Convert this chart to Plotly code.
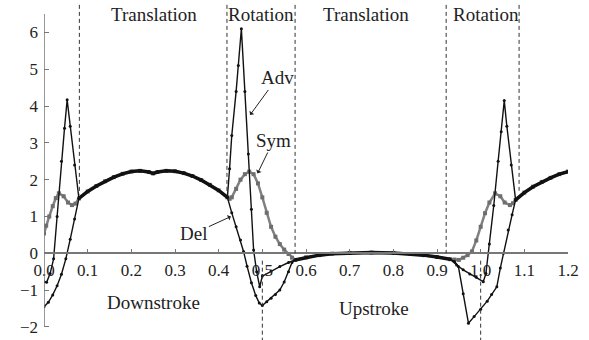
import plotly.graph_objects as go

# ---------------- data ----------------
# shared translation phases (all three cases coincide)
trans1_t = [0.08, 0.10, 0.12, 0.14, 0.16, 0.18, 0.20, 0.22, 0.24, 0.25, 0.26, 0.28, 0.30, 0.32, 0.34, 0.36, 0.38, 0.40, 0.42]
trans1_f = [1.49, 1.68, 1.83, 1.96, 2.07, 2.16, 2.22, 2.24, 2.21, 2.17, 2.21, 2.24, 2.23, 2.18, 2.10, 1.99, 1.86, 1.71, 1.52]
trans2_t = [0.575, 0.60, 0.63, 0.66, 0.70, 0.75, 0.80, 0.84, 0.87, 0.90, 0.93]
trans2_f = [-0.18, -0.11, -0.05, -0.01, 0.01, 0.02, 0.01, -0.02, -0.05, -0.10, -0.16]
trans3_t = [1.08, 1.10, 1.12, 1.14, 1.16, 1.18, 1.20]
trans3_f = [1.45, 1.65, 1.81, 1.94, 2.05, 2.15, 2.22]

# Adv (advanced rotation)
adv_rot0_t = [0.0, 0.006, 0.014, 0.022, 0.03, 0.04, 0.047, 0.053, 0.06, 0.07]
adv_rot0_f = [-0.77, -0.79, -0.55, -0.15, 1.0, 2.5, 3.4, 4.17, 3.45, 2.4]
adv_rot1_t = [0.425, 0.43, 0.44, 0.445, 0.452, 0.46, 0.468, 0.475, 0.48, 0.487, 0.494, 0.50, 0.52, 0.54, 0.56]
adv_rot1_f = [2.3, 3.2, 4.4, 5.1, 6.1, 4.4, 2.7, 1.2, 0.09, -0.5, -0.91, -0.62, -0.48, -0.36, -0.25]
adv_rot2_t = [0.945, 0.96, 0.975, 0.99, 1.006, 1.012, 1.02, 1.03, 1.04, 1.047, 1.054, 1.06, 1.07]
adv_rot2_f = [-0.32, -0.45, -0.56, -0.65, -0.77, -0.55, 0.25, 1.3, 2.5, 3.3, 4.15, 3.45, 2.4]

# Del (delayed rotation)
del_rot0_t = [0.0, 0.01, 0.02, 0.03, 0.04, 0.05, 0.06, 0.07]
del_rot0_f = [-1.45, -1.33, -1.13, -0.88, -0.57, -0.15, 0.38, 0.93]
del_rot1_t = [0.43, 0.44, 0.45, 0.457, 0.465, 0.475, 0.485, 0.493, 0.50, 0.51, 0.52, 0.53, 0.54, 0.55, 0.56, 0.568]
del_rot1_f = [1.1, 0.72, 0.36, 0.05, -0.35, -0.8, -1.15, -1.35, -1.42, -1.32, -1.22, -1.12, -1.0, -0.78, -0.5, -0.25]
del_rot2_t = [0.94, 0.949, 0.96, 0.972, 0.985, 1.0, 1.015, 1.025, 1.037, 1.045, 1.052, 1.063, 1.072]
del_rot2_f = [-0.22, -0.36, -1.1, -1.9, -1.72, -1.52, -1.3, -1.12, -0.91, -0.4, 0.0, 0.63, 1.05]

# Sym (symmetrical rotation)
sym_rot0_t = [0.0, 0.005, 0.012, 0.02, 0.027, 0.034, 0.045, 0.055, 0.064, 0.072]
sym_rot0_f = [0.54, 0.75, 1.0, 1.28, 1.5, 1.63, 1.55, 1.38, 1.31, 1.35]
sym_rot1_t = [0.425, 0.43, 0.44, 0.45, 0.46, 0.47, 0.48, 0.49, 0.50, 0.51, 0.52, 0.53, 0.54, 0.55, 0.56, 0.568]
sym_rot1_f = [1.48, 1.52, 1.75, 2.0, 2.15, 2.22, 2.15, 1.9, 1.52, 1.1, 0.72, 0.45, 0.25, 0.1, -0.02, -0.12]
sym_rot2_t = [0.94, 0.95, 0.96, 0.97, 0.98, 0.99, 1.0, 1.01, 1.02, 1.033, 1.045, 1.055, 1.067, 1.074]
sym_rot2_f = [-0.17, -0.18, -0.12, -0.05, 0.05, 0.35, 0.72, 1.09, 1.38, 1.63, 1.55, 1.38, 1.31, 1.36]

x_ticks = [0.0, 0.1, 0.2, 0.3, 0.4, 0.5, 0.6, 0.7, 0.8, 0.9, 1.0, 1.1, 1.2]
y_ticks = [-2, -1, 0, 1, 2, 3, 4, 5, 6]

phase_bounds = [0.081, 0.419, 0.575, 0.921, 1.088]
phase_bound_ends = [1.6, 1.6, 0.0, 0.0, 1.7]
reversals = [0.5, 1.0]
phase_labels = ["Translation", "Rotation", "Translation", "Rotation"]
phase_label_x = [0.252, 0.497, 0.738, 1.013]
stroke_labels = ["Downstroke", "Upstroke"]
stroke_label_x = [0.251, 0.755]
stroke_label_y = [-1.34, -1.5]


def full(r0t, r0f, r1t, r1f, r2t, r2f):
    t = r0t + trans1_t + r1t + trans2_t + r2t + trans3_t
    f = r0f + trans1_f + r1f + trans2_f + r2f + trans3_f
    return t, f


adv_t, adv_f = full(adv_rot0_t, adv_rot0_f, adv_rot1_t, adv_rot1_f, adv_rot2_t, adv_rot2_f)
del_t, del_f = full(del_rot0_t, del_rot0_f, del_rot1_t, del_rot1_f, del_rot2_t, del_rot2_f)
sym_t, sym_f = full(sym_rot0_t, sym_rot0_f, sym_rot1_t, sym_rot1_f, sym_rot2_t, sym_rot2_f)

FONT = "Liberation Serif"
YMIN, YMAX = -2.356, 6.883

fig = go.Figure()
fig.add_trace(go.Scatter(x=sym_t, y=sym_f, mode="lines+markers", name="Sym",
                         line=dict(color="#808080", width=2.5),
                         marker=dict(color="#6e6e6e", size=4, symbol="square")))
fig.add_trace(go.Scatter(x=del_t, y=del_f, mode="lines+markers", name="Del",
                         line=dict(color="#111111", width=1.4),
                         marker=dict(color="#111111", size=3)))
fig.add_trace(go.Scatter(x=adv_t, y=adv_f, mode="lines+markers", name="Adv",
                         line=dict(color="#111111", width=1.4),
                         marker=dict(color="#111111", size=3)))
for tt, ff in [(trans1_t, trans1_f), (trans2_t, trans2_f), (trans3_t, trans3_f)]:
    fig.add_trace(go.Scatter(x=tt, y=ff, mode="lines", showlegend=False,
                             line=dict(color="#111111", width=3.5)))

shapes = []
for xb, ye in zip(phase_bounds, phase_bound_ends):
    shapes.append(dict(type="line", xref="x", yref="y", x0=xb, x1=xb, y0=6.75, y1=ye,
                       line=dict(color="#333333", width=1, dash="4px,3px")))
for xr in reversals:
    shapes.append(dict(type="line", xref="x", yref="y", x0=xr, x1=xr, y0=-0.2, y1=YMIN,
                       line=dict(color="#333333", width=1, dash="4px,3px")))
# y axis line (from -2 to 6.5)
shapes.append(dict(type="line", xref="x", yref="y", x0=0, x1=0, y0=-2.0, y1=6.5,
                   line=dict(color="#777777", width=1.5)))

annotations = []
for lab, xl in zip(phase_labels, phase_label_x):
    annotations.append(dict(x=xl, y=6.5, xref="x", yref="y", text=lab, showarrow=False,
                            font=dict(family=FONT, size=19, color="#222222")))
for lab, xl, yl in zip(stroke_labels, stroke_label_x, stroke_label_y):
    annotations.append(dict(x=xl, y=yl, xref="x", yref="y", text=lab, showarrow=False,
                            font=dict(family=FONT, size=19, color="#222222")))
for lab, xt, yt, ax, ay in [("Adv", 0.472, 3.76, 27, -37), ("Sym", 0.489, 2.17, 16, -33),
                             ("Del", 0.428, 1.0, -37, 17)]:
    annotations.append(dict(x=xt, y=yt, xref="x", yref="y", text=lab, showarrow=True,
                            ax=ax, ay=ay, arrowhead=1, arrowsize=1, arrowwidth=1,
                            arrowcolor="#222222", standoff=0,
                            font=dict(family=FONT, size=19, color="#222222")))

fig.update_layout(
    width=589, height=340,
    margin=dict(l=43.5, r=21, t=0, b=0),
    paper_bgcolor="white", plot_bgcolor="white",
    showlegend=False,
    font=dict(family=FONT, size=17, color="#222222"),
    shapes=shapes, annotations=annotations,
    xaxis=dict(range=[0, 1.2], anchor="free", position=(0 - YMIN) / (YMAX - YMIN),
               showline=True, linecolor="#777777", linewidth=1.5,
               showgrid=False, zeroline=False,
               ticks="inside", ticklen=4, tickcolor="#777777",
               tickvals=x_ticks, ticktext=["%.1f" % v for v in x_ticks],
               ticklabelstandoff=2,
               tickfont=dict(family=FONT, size=17, color="#222222")),
    yaxis=dict(range=[YMIN, YMAX], showline=False, showgrid=False, zeroline=False,
               ticks="inside", ticklen=5, tickcolor="#777777",
               tickvals=y_ticks, ticktext=[("\u2212%d" % -v) if v < 0 else str(v) for v in y_ticks],
               ticklabelstandoff=5,
               tickfont=dict(family=FONT, size=17, color="#222222")),
)

fig.write_html("out.html")
